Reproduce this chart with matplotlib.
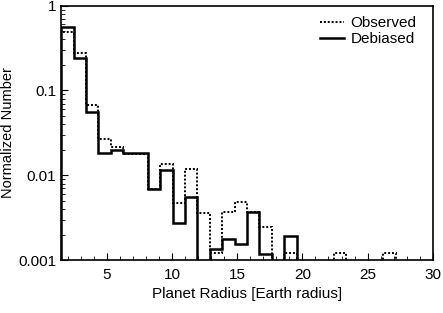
import numpy as np
import matplotlib.pyplot as plt

plt.rcParams['font.family'] = ['Liberation Sans', 'DejaVu Sans']

# 30 bins of 0.95 Earth radii from 1.5 to 30
bin_edges = np.linspace(1.5, 30, 31)

observed = [0.485, 0.275, 0.0667, 0.0265, 0.0218, 0.0178, 0.0178, 0.0069,
            0.0134, 0.00477, 0.0120, 0.00364, 0.00122, 0.00367, 0.00485,
            0.00367, 0.00247, 0, 0.0012, 0, 0, 0, 0.0012, 0, 0, 0, 0.0012,
            0, 0, 0]
debiased = [0.566, 0.244, 0.055, 0.0183, 0.0200, 0.0183, 0.0183, 0.00697,
            0.01167, 0.00277, 0.00556, 0, 0.00137, 0.00175, 0.00153,
            0.00367, 0.00117, 0, 0.00191, 0, 0, 0, 0, 0, 0, 0, 0, 0, 0, 0]

def floor_zeros(v):
    v = np.array(v, dtype=float)
    return np.where(v > 0, v, 1e-9)

fig = plt.figure(figsize=(4.43, 3.13), dpi=100)
ax = fig.add_axes([0.138, 0.169, 0.839, 0.813])

ax.stairs(floor_zeros(observed), bin_edges, color='black', lw=1.4,
          linestyle=(0, (1, 1)), label='Observed')
ax.stairs(floor_zeros(debiased), bin_edges, color='black', lw=1.8,
          label='Debiased')

ax.set_yscale('log')
ax.set_xlim(1.5, 30)
ax.set_ylim(0.001, 1)
ax.set_xticks([5, 10, 15, 20, 25, 30])
ax.set_xticks(np.arange(2, 30, 1), minor=True)
ax.set_yticks([0.001, 0.01, 0.1, 1])
ax.set_yticklabels(['0.001', '0.01', '0.1', '1'])
ax.tick_params(which='both', direction='in', top=False, right=False,
               labelsize=11, colors='black')
ax.tick_params(axis='x', which='major', pad=6)
ax.tick_params(which='major', length=5)
ax.tick_params(which='minor', length=3)
for s in ax.spines.values():
    s.set_linewidth(1.2)

ax.set_xlabel('Planet Radius [Earth radius]', fontsize=11, labelpad=3)
ax.set_ylabel('Normalized Number', fontsize=10.5, labelpad=2)

ax.legend(loc='upper right', bbox_to_anchor=(0.985, 1.0), frameon=False,
          fontsize=11, handlelength=1.6, handletextpad=0.4,
          labelspacing=0.1, borderaxespad=0.3)

fig.savefig('out.png', dpi=100)
